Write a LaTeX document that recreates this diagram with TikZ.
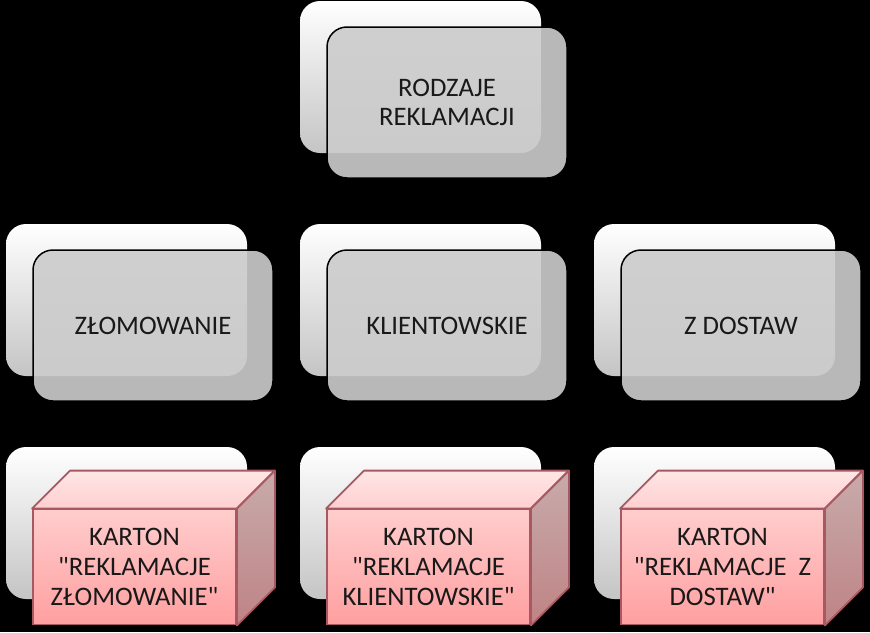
\documentclass[tikz,border=0pt]{standalone}
\usepackage{fontspec}
\newfontfamily\cardfont{Carlito}
\definecolor{boxline}{HTML}{A85860}
\definecolor{sidetop}{HTML}{C8ABAB}
\definecolor{sidebottom}{HTML}{BF8385}
\definecolor{facetop}{HTML}{FFCDCD}
\definecolor{facebottom}{HTML}{FF9FA0}
\definecolor{lidtop}{HTML}{FFE6E6}
\definecolor{lidbottom}{HTML}{FFCFCF}
\tikzset{
  backcard/.style={rectangle,rounded corners=20pt,minimum width=241pt,minimum height=152pt,inner sep=0pt,
    draw=none,top color=white,bottom color=black!23},
  frontcard/.style={rectangle,rounded corners=20pt,minimum width=240pt,minimum height=151pt,inner sep=0pt,
    draw=black,line width=1.5pt,fill=black!20,fill opacity=0.9,text opacity=1,
    align=center,font=\cardfont\fontsize{26.7}{29.5}\selectfont,text=black!90},
  boxface/.style={rectangle,minimum width=203pt,minimum height=115pt,inner sep=0pt,
    draw=boxline,line width=1.8pt,top color=facetop,bottom color=facebottom,
    align=center,font=\cardfont\fontsize{26.7}{30}\selectfont,text=black!90},
  boxtop/.style={draw=boxline,line width=1.8pt,line join=round,top color=lidtop,bottom color=lidbottom},
  boxside/.style={draw=boxline,line width=1.8pt,line join=round,top color=sidetop,bottom color=sidebottom},
}
\begin{document}
\begin{tikzpicture}[x=1pt,y=-1pt]
\useasboundingbox[fill=black] (0,0) rectangle (870,632);
% top card
\node[backcard] (b0) at (420.5,77) {};
\node[frontcard] (f0) at (447,102.5) {RODZAJE\\REKLAMACJI};
% middle row
\node[backcard] (b1) at (126.5,300) {};
\node[frontcard] (f1) at (153,325.5) {ZŁOMOWANIE};
\node[backcard] (b2) at (420.5,300) {};
\node[frontcard] (f2) at (447,325.5) {KLIENTOWSKIE};
\node[backcard] (b3) at (714.5,300) {};
\node[frontcard] (f3) at (741,325.5) {Z DOSTAW};
% bottom row
\node[backcard] (b4) at (126.5,523) {};
\node[backcard] (b5) at (420.5,523) {};
\node[backcard] (b6) at (714.5,523) {};
\node[boxface] (c1) at (134.5,567) {KARTON\\"REKLAMACJE\\ZŁOMOWANIE"};
\node[boxface] (c2) at (428.5,567) {KARTON\\"REKLAMACJE\\KLIENTOWSKIE"};
\node[boxface] (c3) at (722.5,567) {KARTON\\"REKLAMACJE~~Z\\DOSTAW"};
\foreach \c in {c1,c2,c3}{
  \draw[boxtop] (\c.north west) -- ([shift={(38pt,38pt)}]\c.north west) -- ([shift={(38pt,38pt)}]\c.north east) -- (\c.north east) -- cycle;
  \draw[boxside] (\c.north east) -- ([shift={(38pt,38pt)}]\c.north east) -- ([shift={(38pt,38pt)}]\c.south east) -- (\c.south east) -- cycle;
}
\end{tikzpicture}
\end{document}
